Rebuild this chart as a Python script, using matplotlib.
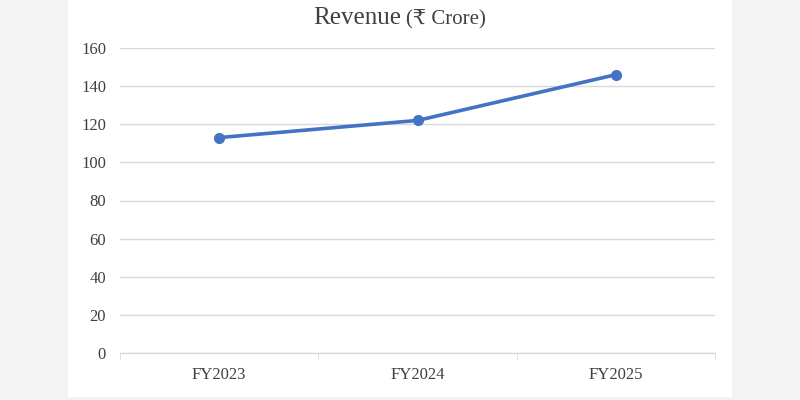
import matplotlib
matplotlib.use("Agg")
import matplotlib.pyplot as plt
from matplotlib.patches import Rectangle

categories = ["FY2023", "FY2024", "FY2025"]
revenue = [113, 122, 146]
yticks = [0, 20, 40, 60, 80, 100, 120, 140, 160]

serif = ['Liberation Serif', 'DejaVu Serif', 'DejaVu Sans']

fig = plt.figure(figsize=(8, 4), dpi=100)
fig.patch.set_facecolor('#f3f3f3')
fig.patches.append(Rectangle((68/800, 3/400), (732-68)/800, 397/400,
                             transform=fig.transFigure, facecolor='white',
                             edgecolor='none', zorder=-10))

ax = fig.add_axes([120/800, 1-353/400, (715-120)/800, (353-48)/400])
ax.set_facecolor('none')
x = list(range(len(categories)))
ax.plot(x, revenue, color='#4472C4', lw=2.6, marker='o', markersize=7, zorder=3)

ax.set_xlim(-0.5, len(categories) - 0.5)
ax.set_ylim(0, 160)
ax.set_yticks(yticks)
ax.set_yticklabels([str(v) for v in yticks], family=serif, fontsize=12, color='#404040')
ax.set_xticks(x)
ax.set_xticklabels(categories, family=serif, fontsize=12, color='#404040')
ax.set_xticks([i - 0.5 for i in range(len(categories) + 1)], minor=True)
ax.tick_params(axis='y', length=0, pad=10)
ax.tick_params(axis='x', which='major', length=0, pad=10)
ax.tick_params(axis='x', which='minor', length=5, color='#d9d9d9', direction='out')
ax.grid(axis='y', color='#d9d9d9', lw=1)
for s in ['top', 'right', 'left']:
    ax.spines[s].set_visible(False)
ax.spines['bottom'].set_color('#d9d9d9')
ax.spines['bottom'].set_linewidth(1)
ax.set_axisbelow(True)

fig.text(401/800, 0.94, "Revenue", family=serif, fontsize=18, color='#404040',
         ha='right', va='baseline')
fig.text(406/800, 0.94, "(₹ Crore)", family=serif, fontsize=15, color='#404040',
         ha='left', va='baseline')

fig.savefig("out.png", dpi=100)
